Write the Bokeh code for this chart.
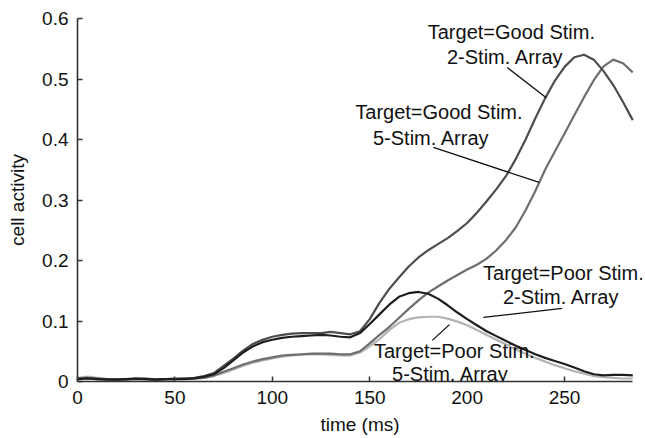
from bokeh.plotting import figure
from bokeh.models import FixedTicker, Range1d, Label
from bokeh.embed import file_html
from bokeh.resources import INLINE

# time axis samples (ms)
time_ms = list(range(0, 290, 5))

# cell activity, target = good stimulus, 2-stimulus array
good_2 = [0.004, 0.006, 0.005, 0.004, 0.003, 0.004, 0.005, 0.004, 0.003, 0.004, 0.005, 0.005, 0.006,
          0.009, 0.014, 0.026, 0.038, 0.051, 0.062, 0.069, 0.074, 0.077, 0.079, 0.080, 0.080, 0.080,
          0.082, 0.080, 0.078, 0.083,
          0.103, 0.130, 0.153, 0.172, 0.190, 0.205, 0.217, 0.227, 0.237, 0.249, 0.262, 0.279, 0.298,
          0.318, 0.340, 0.368, 0.400, 0.435, 0.468, 0.497, 0.520, 0.536, 0.540, 0.532, 0.513, 0.490,
          0.462, 0.432]

# target = good stimulus, 5-stimulus array
good_5 = [0.005, 0.006, 0.004, 0.004, 0.004, 0.003, 0.005, 0.005, 0.003, 0.004, 0.004, 0.005, 0.005,
          0.006, 0.010, 0.016, 0.022, 0.028, 0.033, 0.037, 0.040, 0.043, 0.044, 0.045, 0.046, 0.046,
          0.046, 0.045, 0.045, 0.050,
          0.063, 0.077, 0.090, 0.105, 0.120, 0.134, 0.147, 0.157, 0.167, 0.176, 0.185, 0.193, 0.203,
          0.217, 0.234, 0.255, 0.283, 0.315, 0.350, 0.380, 0.410, 0.440, 0.470, 0.498, 0.521, 0.532,
          0.526, 0.511]

# target = poor stimulus, 2-stimulus array
poor_2 = [0.004, 0.005, 0.004, 0.003, 0.003, 0.004, 0.004, 0.004, 0.003, 0.004, 0.004, 0.004, 0.005,
          0.008, 0.012, 0.022, 0.035, 0.048, 0.058, 0.065, 0.069, 0.072, 0.074, 0.075, 0.076, 0.077,
          0.076, 0.074, 0.073, 0.080,
          0.095, 0.111, 0.127, 0.140, 0.146, 0.148, 0.145, 0.137, 0.126, 0.114, 0.103, 0.093, 0.083,
          0.075, 0.067, 0.059, 0.052, 0.045, 0.039, 0.034, 0.029, 0.023, 0.017, 0.012, 0.010, 0.011,
          0.011, 0.010]

# target = poor stimulus, 5-stimulus array
poor_5 = [0.006, 0.008, 0.006, 0.004, 0.004, 0.004, 0.006, 0.005, 0.004, 0.004, 0.004, 0.005, 0.005,
          0.006, 0.009, 0.014, 0.020, 0.026, 0.031, 0.035, 0.038, 0.041, 0.043, 0.044, 0.045, 0.045,
          0.044, 0.043, 0.043, 0.048,
          0.058, 0.070, 0.085, 0.097, 0.103, 0.106, 0.107, 0.107, 0.104, 0.099, 0.093, 0.085, 0.077,
          0.069, 0.061, 0.053, 0.046, 0.039, 0.033, 0.027, 0.022, 0.017, 0.013, 0.009, 0.007, 0.006,
          0.005, 0.005]

x_ticks = [0, 50, 100, 150, 200, 250]
y_ticks = [0, 0.1, 0.2, 0.3, 0.4, 0.5, 0.6]
y_tick_labels = ["0", "0.1", "0.2", "0.3", "0.4", "0.5", "0.6"]

# annotation text lines (centre positions in data units)
label_text = ["Target=Good Stim.", "2-Stim. Array",
              "Target=Good Stim.", "5-Stim. Array",
              "Target=Poor Stim.", "2-Stim. Array",
              "Target=Poor Stim.", "5-Stim. Array"]
label_x = [222.7, 219.6, 185.5, 181.6, 249.4, 248.3, 193.4, 191.4]
label_y = [0.577, 0.536, 0.445, 0.403, 0.180, 0.139, 0.051, 0.013]

# leader lines from labels to curves
lead_x0 = [220.6, 182.7, 208.3, 182.1]
lead_y0 = [0.519, 0.387, 0.106, 0.068]
lead_x1 = [240.6, 237.0, 248.8, 190.9]
lead_y1 = [0.469, 0.329, 0.121, 0.094]

FONT = "Liberation Sans"

# the frame runs a little past the last sample so the right-hand labels are not cut;
# the time axis line itself stops at 285 ms
p = figure(width=645, height=438, output_backend="svg", toolbar_location=None,
           x_range=Range1d(0, 290), y_range=Range1d(0, 0.6),
           min_border_left=77, min_border_right=3, min_border_top=18, min_border_bottom=57)

p.outline_line_color = None
p.xgrid.visible = False
p.ygrid.visible = False
p.background_fill_color = "white"
p.border_fill_color = "white"

for ax in (p.xaxis[0], p.yaxis[0]):
    ax.axis_line_color = "#333333"
    ax.axis_line_width = 1.6
    ax.major_tick_line_color = "#333333"
    ax.major_tick_line_width = 1.5
    ax.major_tick_in = 5
    ax.major_tick_out = 0
    ax.minor_tick_line_color = None
    ax.major_label_text_font = FONT
    ax.major_label_text_font_size = "19px"
    ax.major_label_text_color = "#111111"
    ax.axis_label_text_font = FONT
    ax.axis_label_text_font_size = "19px"
    ax.axis_label_text_font_style = "normal"
    ax.axis_label_text_color = "#111111"

p.xaxis.bounds = (0, 285)
p.xaxis.ticker = FixedTicker(ticks=x_ticks)
p.yaxis.ticker = FixedTicker(ticks=y_ticks)
p.yaxis.major_label_overrides = dict(zip(y_ticks, y_tick_labels))
p.xaxis.major_label_standoff = 9
p.yaxis.major_label_standoff = 9
p.xaxis.axis_label = "time (ms)"
p.yaxis.axis_label = "cell activity"
p.xaxis.axis_label_standoff = 7
p.yaxis.axis_label_standoff = 11

p.line(time_ms, poor_5, line_color="#b3b3b3", line_width=2.2)
p.line(time_ms, good_5, line_color="#6e6e6e", line_width=2.2)
p.line(time_ms, good_2, line_color="#4d4d4d", line_width=2.2)
p.line(time_ms, poor_2, line_color="#1e1e1e", line_width=2.2)

p.segment(x0=lead_x0, y0=lead_y0, x1=lead_x1, y1=lead_y1, line_color="#111111", line_width=1.3)

for tx, lx, ly in zip(label_text, label_x, label_y):
    p.add_layout(Label(x=lx, y=ly, text=tx, text_align="center", text_baseline="middle",
                       text_font=FONT, text_font_size="20px", text_color="#111111"))

open("out.html", "w").write(file_html(p, INLINE))
